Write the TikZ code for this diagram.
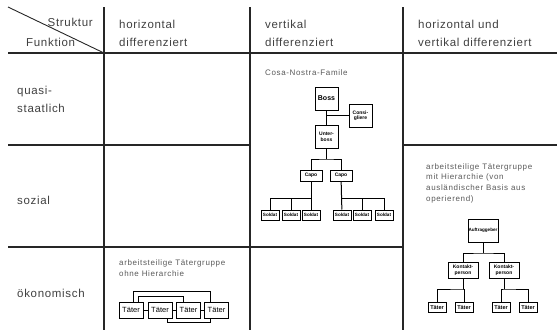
\documentclass[tikz,border=0pt]{standalone}
\usepackage{fontspec}
\setmainfont{Liberation Sans}[LetterSpace=6.0]
\newfontfamily\notefont{Liberation Sans}[LetterSpace=8.0]
\newfontfamily\boxfont{Liberation Sans}
\usepackage{tikz}
\usetikzlibrary{calc, positioning}
\def\headsize{\fontsize{11.5}{18.5}\selectfont}
\def\notesize{\fontsize{8}{10.7}\selectfont}
\tikzstyle{grid}=[line width=1.1pt, black!85]
\tikzstyle{head}=[font=\headsize, text=black!75, align=left, inner sep=0pt, anchor=west]
\tikzstyle{note}=[font=\notefont\notesize, text=black!65, align=left, inner sep=0pt, anchor=west]
\tikzstyle{rank}=[draw, line width=1pt, fill=white, inner sep=0pt, align=center, font=\boxfont\bfseries\fontsize{5}{5.5}\selectfont]
\tikzstyle{boss}=[rank, minimum width=23pt, minimum height=23pt]
\tikzstyle{capo}=[rank, minimum width=22pt, minimum height=11pt]
\tikzstyle{soldier}=[rank, minimum width=18pt, minimum height=10pt, font=\boxfont\bfseries\fontsize{4.6}{5}\selectfont]
\tikzstyle{chief}=[rank, minimum width=30pt, minimum height=23pt, font=\boxfont\bfseries\fontsize{4.6}{5}\selectfont]
\tikzstyle{agent}=[rank, minimum width=30pt, minimum height=16pt]
\tikzstyle{taeter}=[draw, line width=1pt, inner sep=0pt, minimum width=24pt, minimum height=16pt, font=\boxfont\fontsize{7.5}{8}\selectfont]
\tikzstyle{link}=[line width=1pt]

\begin{document}
\begin{tikzpicture}[x=1pt, y=-1pt]
		\useasboundingbox (0,0) rectangle (557,330);
		% table
		\draw[grid] (8,53) -- (557,53);
		\draw[grid] (8,145) -- (250,145) (403,145) -- (557,145);
		\draw[grid] (8,247) -- (403,247);
		\foreach \x in {104,250,403}
			\draw[grid] (\x,7) -- (\x,330);
		\draw[line width=0.9pt, black!85] (8,7) -- (104,53);
		% headings
		\node[head, anchor=east] (struktur) at (93,22) {Struktur};
		\node[head] (funktion) at (26,42) {Funktion};
		\node[head] (H-1) at (119,33.5) {horizontal\\differenziert};
		\node[head] (H-2) at (265,33.5) {vertikal\\differenziert};
		\node[head] (H-3) at (418,33.5) {horizontal und\\vertikal differenziert};
		\node[head] (F-1) at (17,99.5) {quasi-\\staatlich};
		\node[head] (F-2) at (17,200) {sozial};
		\node[head] (F-3) at (17,293) {ökonomisch};
		% Cosa Nostra
		\node[note] (cosa) at (265,73) {Cosa-Nostra-Famile};
		\node[boss] (B) at (326.5,98.5) {\fontsize{7}{8}\selectfont Boss};
		\node[boss] (C) at (360.5,115.5) {Consi-\\gliere};
		\node[boss] (U) at (326.5,137) {Unter-\\boss};
		\node[capo] (K-1) at (311,175.5) {Capo};
		\node[capo] (K-2) at (341,175.5) {Capo};
		\foreach \n/\x in {1/270,2/291,3/311,4/342,5/362,6/384}
			\node[soldier] (S-\n) at (\x,215) {Soldat};
		\draw[link] (B) -- (U);
		\draw[link] (C.west) -- (C.west -| B);
		\coordinate (j0) at (326.5,159);
		\draw[link] (U) -- (j0);
		\draw[link] (K-1.north) |- (j0) -| (K-2.north);
		\coordinate (j1) at (311,198);
		\coordinate (j2) at (342,198);
		\draw[link] (K-1) -- (S-3);
		\draw[link] (K-2) -- (S-4);
		\foreach \n in {1,2}
			\draw[link] (S-\n.north) |- (j1);
		\foreach \n in {5,6}
			\draw[link] (S-\n.north) |- (j2);
		% ohne Hierarchie
		\node[note] (ohne) at (119,268) {arbeitsteilige Tätergruppe\\ohne Hierarchie};
		\foreach \n/\x in {1/131,2/160,3/188.5,4/216.5}
			\node[taeter] (L-\n) at (\x,310) {Täter};
		\draw[link] (L-1) -- (L-2) (L-2) -- (L-3) (L-3) -- (L-4);
		\draw[link] ([xshift=2]L-1.north) -- ++(0,-10) -| ([xshift=-6.5]L-4.north);
		\draw[link] ([xshift=7]L-1.north) -- ++(0,-5) -| ([xshift=-5.5]L-3.north);
		\draw[link] ([xshift=7]L-2.south) -- ++(0,4) -| ([xshift=-6.5]L-4.south);
		% mit Hierarchie
		\node[note] (mit) at (426,183) {arbeitsteilige Tätergruppe\\mit Hierarchie (von\\ausländischer Basis aus\\operierend)};
		\node[chief] (A) at (483,230.5) {Auftraggeber};
		\node[agent] (M-1) at (463,270) {Kontakt-\\person};
		\node[agent] (M-2) at (504,270) {Kontakt-\\person};
		\foreach \n/\x in {1/437,2/464,3/501,4/528}
			\node[soldier] (T-\n) at (\x,307.5) {\fontsize{5.5}{6}\selectfont Täter};
		\coordinate (j3) at (483,253);
		\draw[link] (A) -- (j3);
		\draw[link] (M-1.north) |- (j3) -| (M-2.north);
		\coordinate (j4) at (463,289);
		\coordinate (j5) at (504,289);
		\draw[link] (M-1.south) -- (j4);
		\draw[link] (M-2.south) -- (j5);
		\draw[link] (T-1.north) |- (j4) -| (T-2.north);
		\draw[link] (T-3.north) |- (j5) -| (T-4.north);
	\end{tikzpicture}
\end{document}
